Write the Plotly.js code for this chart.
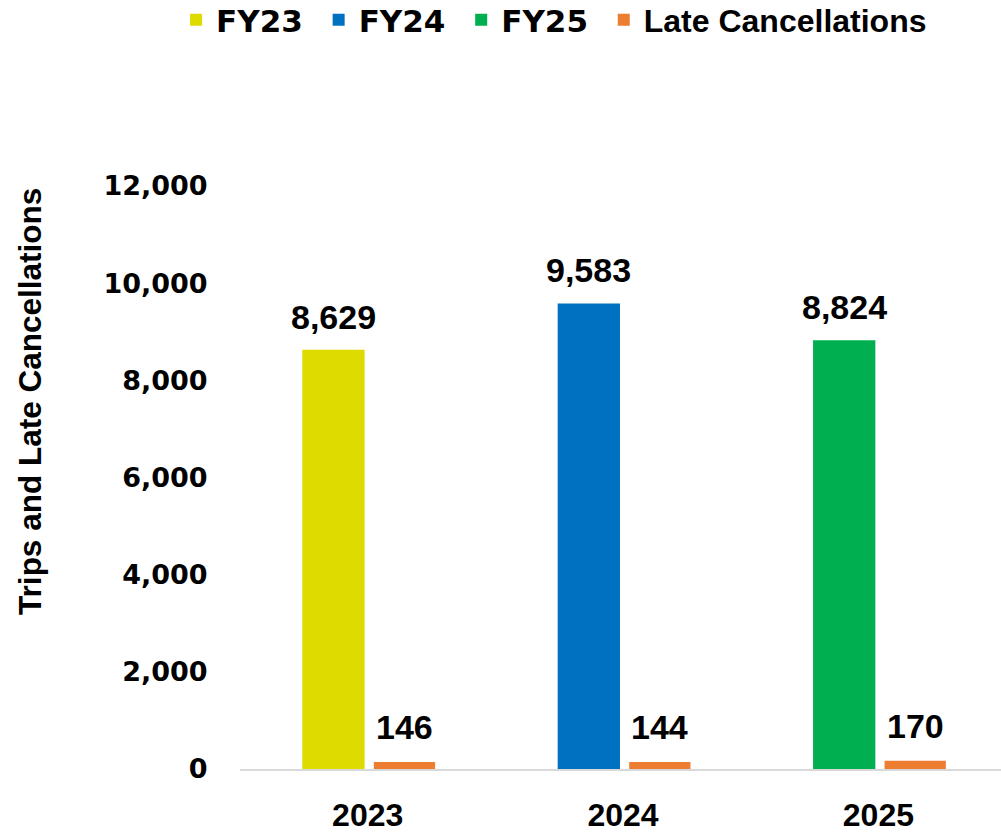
<!DOCTYPE html>
<html>
<head>
<meta charset="utf-8">
<script src="https://cdn.plot.ly/plotly-3.0.1.min.js"></script>
<style>html,body{margin:0;padding:0;background:#fff;}#chart{width:1001px;height:833px;}</style>
</head>
<body>
<div id="chart"></div>
<script>
// ---- Data ----
const years = ['2023', '2024', '2025'];
const fyNames = ['FY23', 'FY24', 'FY25'];
const trips = [8629, 9583, 8824];
const lateCancellations = [146, 144, 170];
const fyColors = ['#DEDB00', '#0070C0', '#00B050'];
const lateColor = '#ED7D31';
const yTitle = 'Trips and Late Cancellations';
const yTicks = [0, 2000, 4000, 6000, 8000, 10000, 12000];

// ---- Styling ----
const tripOffset = -0.256, tripWidth = 0.244;
const lateOffset = 0.024, lateWidth = 0.24;
const mainFont = 'Liberation Sans, Arial, sans-serif';
const wideFont = 'DejaVu Sans, Verdana, sans-serif';

const traces = [];
fyNames.forEach((name, i) => {
  traces.push({
    type: 'bar',
    x: [years[i]],
    y: [trips[i]],
    name: '<span style="font-family:DejaVu Sans;font-size:31px">' + name + '&nbsp;</span>',
    marker: {color: fyColors[i]},
    offset: tripOffset,
    width: tripWidth,
    hoverinfo: 'y'
  });
});
traces.push({
  type: 'bar',
  x: years,
  y: lateCancellations,
  name: 'Late Cancellations',
  marker: {color: lateColor},
  offset: lateOffset,
  width: lateWidth,
  hoverinfo: 'y'
});

const annotations = [];
const fmt = v => v.toLocaleString('en-US');
trips.forEach((v, i) => {
  annotations.push({
    x: i + tripOffset + tripWidth / 2, y: v, xref: 'x', yref: 'y',
    text: fmt(v), showarrow: false, yanchor: 'bottom', yshift: 12,
    font: {family: mainFont, size: 34, color: '#000', weight: 'bold'}
  });
});
lateCancellations.forEach((v, i) => {
  annotations.push({
    x: i + lateOffset + lateWidth / 2, y: v, xref: 'x', yref: 'y',
    text: fmt(v), showarrow: false, yanchor: 'bottom', yshift: 14,
    font: {family: mainFont, size: 34, color: '#000', weight: 'bold'}
  });
});
annotations.push({
  x: -0.302, y: 0.63, xref: 'paper', yref: 'paper',
  text: yTitle, textangle: -90, showarrow: false,
  font: {family: mainFont, size: 31.5, color: '#000', weight: 'bold'}
});

const layout = {
  width: 1001, height: 833,
  margin: {l: 240, r: 0, t: 186, b: 64, pad: 0, autoexpand: false},
  paper_bgcolor: '#fff', plot_bgcolor: '#fff',
  barmode: 'overlay',
  showlegend: true,
  legend: {
    orientation: 'h', x: -0.084, xanchor: 'left', y: 1.332, yanchor: 'top',
    font: {family: mainFont, size: 32, color: '#000', weight: 'bold'},
    itemwidth: 30, tracegroupgap: 0
  },
  xaxis: {
    type: 'category', range: [-0.5, 2.48],
    showline: true, linecolor: '#D9D9D9', linewidth: 2,
    showgrid: false, zeroline: false,
    ticks: 'outside', ticklen: 17, tickcolor: 'rgba(0,0,0,0)',
    tickfont: {family: mainFont, size: 32, color: '#000', weight: 'bold'}
  },
  yaxis: {
    range: [0, 12000], tickvals: yTicks, tickformat: ',',
    showgrid: false, zeroline: false, showline: false,
    ticks: 'outside', ticklen: 26, tickcolor: 'rgba(0,0,0,0)',
    tickfont: {family: wideFont, size: 27, color: '#000', weight: 'bold'}
  },
  annotations: annotations
};

Plotly.newPlot('chart', traces, layout, {displayModeBar: false, staticPlot: true});
</script>
</body>
</html>
